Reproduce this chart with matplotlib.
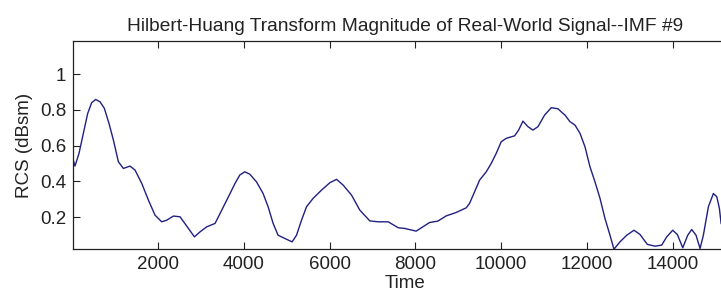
import numpy as np
import matplotlib
matplotlib.use("Agg")
import matplotlib.pyplot as plt

# values
time = [16, 56, 150, 252, 353, 446, 539, 640, 742, 850, 953, 1069, 1186, 1340,
        1457, 1613, 1770, 1924, 2080, 2197, 2354, 2508, 2664, 2844, 2975, 3131,
        3325, 3481, 3638, 3792, 3902, 4018, 4135, 4292, 4446, 4563, 4680, 4796,
        4953, 5123, 5226, 5343, 5459, 5614, 5810, 6003, 6160, 6314, 6510, 6704,
        6937, 7131, 7365, 7598, 7748, 8018, 8175, 8331, 8525, 8719, 8952, 9186,
        9265, 9382, 9499, 9653, 9770, 9886, 10003, 10120, 10316, 10409, 10510,
        10627, 10743, 10860, 11016, 11171, 11327, 11444, 11491, 11607, 11724,
        11841, 11957, 12074, 12191, 12308, 12424, 12541, 12634, 12774, 12931,
        13102, 13242, 13412, 13592, 13748, 13865, 14005, 14113, 14239, 14355,
        14449, 14549, 14643, 14720, 14837, 14954, 15033, 15094, 15134]
rcs = [0.52, 0.486, 0.557, 0.669, 0.78, 0.84, 0.858, 0.845, 0.808, 0.724, 0.631,
       0.51, 0.473, 0.486, 0.464, 0.39, 0.296, 0.212, 0.175, 0.184, 0.207, 0.203,
       0.151, 0.091, 0.119, 0.147, 0.166, 0.24, 0.315, 0.39, 0.436, 0.454,
       0.441, 0.398, 0.333, 0.259, 0.166, 0.10, 0.082, 0.063, 0.10, 0.184,
       0.259, 0.306, 0.352, 0.393, 0.412, 0.38, 0.324, 0.24, 0.18, 0.175, 0.175,
       0.142, 0.138, 0.123, 0.147, 0.171, 0.179, 0.208, 0.227, 0.253, 0.278,
       0.343, 0.408, 0.454, 0.501, 0.557, 0.622, 0.641, 0.655, 0.687, 0.737,
       0.706, 0.687, 0.706, 0.771, 0.812, 0.806, 0.78, 0.771, 0.734, 0.715,
       0.669, 0.594, 0.482, 0.398, 0.306, 0.194, 0.10, 0.022, 0.063, 0.10,
       0.128, 0.104, 0.049, 0.039, 0.045, 0.091, 0.128, 0.104, 0.03, 0.10,
       0.132, 0.10, 0.026, 0.10, 0.259, 0.333, 0.315, 0.25, 0.166]

xticks = [2000, 4000, 6000, 8000, 10000, 12000, 14000]
yticks = [0.2, 0.4, 0.6, 0.8, 1]

plt.rcParams['font.family'] = ['Liberation Sans', 'DejaVu Sans']

fig = plt.figure(figsize=(7.21, 3.06), dpi=100)
# axes run past the right edge, as in the cropped reference
ax = fig.add_axes([0.1016, 0.185, 0.9203, 0.6826])

ax.plot(time, rcs, color='#202080', linewidth=1.0)

ax.set_xlim(16, 15500)
ax.set_ylim(0.021, 1.187)
ax.set_xticks(xticks)
ax.set_xticklabels([str(t) for t in xticks])
ax.set_yticks(yticks)
ax.set_yticklabels(['0.2', '0.4', '0.6', '0.8', '1'])
ax.tick_params(direction='in', length=5, width=0.8, top=True, right=True,
               labelsize=13.5, colors='#222222', pad=5)

for s in ax.spines.values():
    s.set_linewidth(0.9)
    s.set_color('#222222')

ax.set_xlabel('Time', fontsize=13.5, labelpad=1, color='#222222')
ax.set_ylabel('RCS (dBsm)', fontsize=13.5, labelpad=5, color='#222222')
ax.set_title('Hilbert-Huang Transform Magnitude of Real-World Signal--IMF #9',
             fontsize=13.8, pad=7, color='#222222')

fig.savefig('out.png', dpi=100)
